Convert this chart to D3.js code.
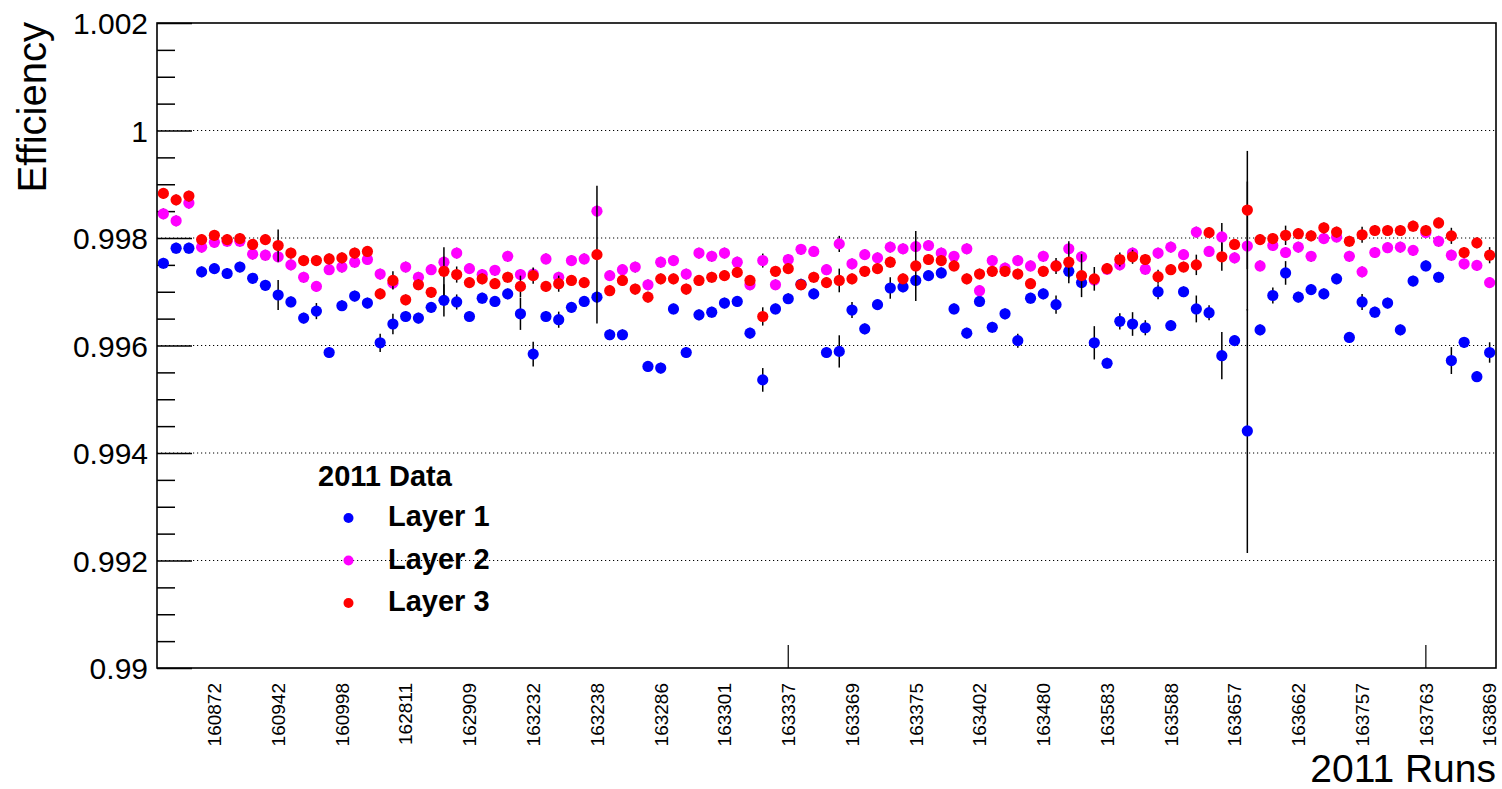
<!DOCTYPE html>
<html>
<head>
<meta charset="utf-8">
<script src="https://cdn.jsdelivr.net/npm/d3@7"></script>
<style>
body { margin: 0; background: #fff; }
svg { display: block; font-family: "Liberation Sans", Arial, Helvetica, sans-serif; }
</style>
</head>
<body>
<svg id="chart" width="1502" height="789"></svg>
<script>
// one entry per run bin (105 bins)
let n_bins = 105

let layer1_eff = [
  0.99753, 0.99781, 0.99781, 0.99737, 0.99743, 0.99734, 0.99746, 0.99725, 0.99712, 0.99694,
  0.99681, 0.99651, 0.99664, 0.99587, 0.99674, 0.99692, 0.99679, 0.99605, 0.99640, 0.99654,
  0.99651, 0.99671, 0.99684, 0.99681, 0.99654, 0.99688, 0.99682, 0.99696, 0.99659, 0.99584,
  0.99654, 0.99648, 0.99671, 0.99682, 0.99690, 0.99620, 0.99620, null, 0.99561, 0.99558,
  0.99668, 0.99587, 0.99657, 0.99662, 0.99679, 0.99682, 0.99623, 0.99536, 0.99668, 0.99687,
  0.99714, 0.99696, 0.99587, 0.99589, 0.99666, 0.99631, 0.99676, 0.99707, 0.99709, 0.99721,
  0.99730, 0.99735, 0.99668, 0.99623, 0.99682, 0.99634, 0.99659, 0.99609, 0.99688, 0.99696,
  0.99676, 0.99738, 0.99717, 0.99605, 0.99567, 0.99645, 0.99640, 0.99633, 0.99700, 0.99637,
  0.99700, 0.99668, 0.99661, 0.99581, 0.99609, 0.99441, 0.99629, 0.99693, 0.99735, 0.99690,
  0.99704, 0.99696, 0.99724, 0.99615, 0.99681, 0.99662, 0.99679, 0.99629, 0.99720, 0.99748,
  0.99727, 0.99572, 0.99606, 0.99542, 0.99587
]

let layer2_eff = [
  0.99845, 0.99832, 0.99865, 0.99783, 0.99792, 0.99794, 0.99794, 0.99770, 0.99768, 0.99765,
  0.99750, 0.99727, 0.99710, 0.99741, 0.99746, 0.99755, 0.99760, 0.99733, 0.99716, 0.99746,
  0.99727, 0.99741, 0.99755, 0.99772, 0.99743, 0.99732, 0.99740, 0.99766, 0.99732, 0.99733,
  0.99761, 0.99727, 0.99758, 0.99761, 0.99850, 0.99730, 0.99741, 0.99746, 0.99713, 0.99755,
  0.99758, 0.99733, 0.99772, 0.99766, 0.99772, 0.99755, 0.99713, 0.99758, 0.99713, 0.99760,
  0.99779, 0.99775, 0.99741, 0.99789, 0.99752, 0.99769, 0.99763, 0.99783, 0.99780, 0.99784,
  0.99786, 0.99772, 0.99766, 0.99780, 0.99702, 0.99758, 0.99744, 0.99758, 0.99748, 0.99766,
  0.99748, 0.99780, 0.99765, 0.99722, 0.99742, 0.99750, 0.99772, 0.99742, 0.99772, 0.99783,
  0.99769, 0.99811, 0.99775, 0.99802, 0.99763, 0.99785, 0.99748, 0.99786, 0.99773, 0.99783,
  0.99766, 0.99799, 0.99802, 0.99766, 0.99737, 0.99773, 0.99782, 0.99783, 0.99777, 0.99810,
  0.99794, 0.99768, 0.99752, 0.99749, 0.99717
]

let layer3_eff = [
  0.99883, 0.99871, 0.99878, 0.99797, 0.99805, 0.99797, 0.99799, 0.99788, 0.99797, 0.99786,
  0.99772, 0.99758, 0.99758, 0.99761, 0.99763, 0.99772, 0.99775, 0.99696, 0.99721, 0.99685,
  0.99713, 0.99699, 0.99738, 0.99732, 0.99717, 0.99724, 0.99715, 0.99727, 0.99710, 0.99730,
  0.99710, 0.99715, 0.99721, 0.99717, 0.99769, 0.99702, 0.99721, 0.99705, 0.99690, 0.99724,
  0.99724, 0.99705, 0.99721, 0.99727, 0.99730, 0.99736, 0.99721, 0.99654, 0.99738, 0.99743,
  0.99713, 0.99727, 0.99717, 0.99721, 0.99724, 0.99738, 0.99743, 0.99755, 0.99724, 0.99748,
  0.99760, 0.99758, 0.99748, 0.99724, 0.99733, 0.99738, 0.99738, 0.99733, 0.99715, 0.99738,
  0.99748, 0.99755, 0.99730, 0.99724, 0.99743, 0.99760, 0.99765, 0.99760, 0.99728, 0.99741,
  0.99746, 0.99750, 0.99810, 0.99765, 0.99788, 0.99852, 0.99797, 0.99799, 0.99805, 0.99808,
  0.99804, 0.99819, 0.99811, 0.99794, 0.99806, 0.99814, 0.99814, 0.99814, 0.99822, 0.99814,
  0.99828, 0.99804, 0.99773, 0.99791, 0.99768
]

// errors in units of 1e-4
let err_unit = 1e-4

let layer1_err = [
  1, 1, 1, 1, 1, 1, 1, 1, 1, 2.8,
  1, 1, 1.5, 1, 1, 1, 1, 1.7, 1.9, 1,
  1, 1, 3, 1.4, 1, 1, 1, 1, 3, 2.3,
  1, 1.5, 1, 1, 1, 1, 1, 1, 1, 1,
  1, 1, 1, 1, 1, 1, 1, 2.2, 1, 1,
  1, 1, 1, 3, 1.5, 1, 1, 2, 1, 1,
  1, 1, 1, 1, 1, 1, 1, 1.3, 1, 1,
  1.7, 1.3, 1, 3.1, 1, 1.5, 2.2, 1.4, 1.4, 1,
  1, 2.5, 1.4, 4.4, 1, 22.7, 1, 1.5, 2.2, 1,
  1, 1, 1, 1, 1.5, 1, 1, 1, 1, 1,
  1, 2.5, 1, 1, 1.9
]

let layer2_err = [
  1, 1, 1, 1, 1, 1, 1, 1, 1, 1,
  1, 1, 1, 1, 1, 1, 1, 1, 1, 1,
  1, 1, 1, 1, 1, 1, 1, 1, 1, 1,
  1, 1, 1, 1, 1, 1, 1, 1, 1, 1,
  1, 1, 1, 1, 1, 1, 1, 1.3, 1, 1,
  1, 1, 1, 1.5, 1, 1, 1, 1, 1, 1,
  1, 1, 1, 1, 1, 1, 1, 1, 1, 1,
  1, 1, 1, 1, 1, 1, 1, 1, 1, 1,
  1, 1, 1, 2.6, 1, 12, 1, 1, 1, 1,
  1, 1, 1, 1, 1, 1, 1, 1, 1, 1,
  1, 1, 1, 1, 1
]

let layer3_err = [
  1, 1, 1, 1, 1, 1, 1, 1, 1, 3,
  1, 1, 1, 1, 1, 1, 1, 1, 1.7, 1,
  1, 1, 4.5, 1.5, 1, 1, 1, 1, 2, 1.5,
  1, 1.5, 1, 1, 12.8, 1, 1, 1, 1, 1,
  1, 1, 1, 1, 1, 1, 1, 1.7, 1, 1,
  1, 1, 1, 2.2, 1, 1, 1, 1, 1, 6.5,
  1, 1, 1, 1, 1, 1, 1, 1, 1, 1,
  1.5, 3.9, 4, 2.2, 1, 1.3, 1.3, 1, 1.3, 1,
  1, 1.9, 1, 2.6, 1, 11, 1, 1, 1.8, 1,
  1, 1, 1, 1, 1.5, 1, 1, 1, 1, 1,
  1, 1.5, 1, 1, 1.5
]

let run_labels = ["160872", "160942", "160998", "162811", "162909", "163232", "163238",
  "163286", "163301", "163337", "163369", "163375", "163402", "163480", "163583",
  "163588", "163657", "163662", "163757", "163763", "163869"]
let label_bins = [4, 9, 14, 19, 24, 29, 34, 39, 44, 49, 54, 59, 64, 69, 74, 79, 84, 89, 94, 99, 104]
let x_tick_bins = [49, 99]

let y_major = [0.99, 0.992, 0.994, 0.996, 0.998, 1, 1.002]
let y_grid = [0.992, 0.994, 0.996, 0.998, 1]
let y_minor = [0.9905, 0.991, 0.9915, 0.9925, 0.993, 0.9935, 0.9945, 0.995, 0.9955,
  0.9965, 0.997, 0.9975, 0.9985, 0.999, 0.9995, 1.0005, 1.001, 1.0015]

let layer_names = ["Layer 1", "Layer 2", "Layer 3"]
let layer_colors = ["#0000ff", "#ff00ff", "#ff0000"]
let layers = [
  {name: layer_names[0], eff: layer1_eff, err: layer1_err, color: layer_colors[0]},
  {name: layer_names[1], eff: layer2_eff, err: layer2_err, color: layer_colors[1]},
  {name: layer_names[2], eff: layer3_eff, err: layer3_err, color: layer_colors[2]},
]

let margin = {top: 23, right: 6, bottom: 121, left: 157}
let width = 1502 - margin.left - margin.right
let height = 789 - margin.top - margin.bottom

let svg = d3.select("#chart")
let g = svg.append("g")
  .attr("transform", "translate(" + margin.left + "," + margin.top + ")")

let x = d3.scaleLinear().domain([0, n_bins]).range([0, width])
let y = d3.scaleLinear().domain([0.99, 1.002]).range([height, 0])

// dotted grid
g.append("g")
  .selectAll("line")
  .data(y_grid)
  .enter()
  .append("line")
    .attr("x1", 0)
    .attr("x2", width)
    .attr("y1", d => y(d))
    .attr("y2", d => y(d))
    .attr("stroke", "#000")
    .attr("stroke-width", 1)
    .attr("stroke-dasharray", "1.2,2.8")

// y axis: ticks point into the frame
let y_axis = g.append("g")
  .call(d3.axisLeft(y).tickValues(y_major).tickSize(-35).tickSizeOuter(0).tickPadding(9)
    .tickFormat(d => d3.format("")(+d.toFixed(3))))
y_axis.select(".domain").remove()
y_axis.selectAll("line").attr("stroke-width", 1.5)
y_axis.selectAll("text")
  .attr("font-size", 30)
  .attr("fill", "#000")
  .attr("dy", "0.36em")

let y_minor_axis = g.append("g")
  .call(d3.axisLeft(y).tickValues(y_minor).tickSize(-18).tickSizeOuter(0).tickFormat(""))
y_minor_axis.select(".domain").remove()
y_minor_axis.selectAll("line").attr("stroke-width", 1.5)

// x axis ticks and run labels
g.append("g")
  .selectAll("line")
  .data(x_tick_bins)
  .enter()
  .append("line")
    .attr("x1", d => x(d + 0.5))
    .attr("x2", d => x(d + 0.5))
    .attr("y1", height)
    .attr("y2", height - 23)
    .attr("stroke", "#000")
    .attr("stroke-width", 1.2)

g.append("g")
  .selectAll("text")
  .data(run_labels)
  .enter()
  .append("text")
    .attr("transform", (d, i) => "translate(" + (x(label_bins[i] + 0.5) + 6.8) + "," + (height + 15) + ") rotate(-90)")
    .attr("text-anchor", "end")
    .attr("font-size", 19)
    .attr("fill", "#000")
    .text(d => d)

// error bars then markers, one layer after the other
for(let layer of layers){
  let pts = layer.eff
    .map((v, i) => ({bin: i, v: v, e: layer.err[i] * err_unit}))
    .filter(p => p.v !== null)

  let lg = g.append("g")
  lg.selectAll("line")
    .data(pts)
    .enter()
    .append("line")
      .attr("x1", d => x(d.bin + 0.5))
      .attr("x2", d => x(d.bin + 0.5))
      .attr("y1", d => y(d.v - d.e))
      .attr("y2", d => y(d.v + d.e))
      .attr("stroke", "#000")
      .attr("stroke-width", 1.5)

  lg.selectAll("circle")
    .data(pts)
    .enter()
    .append("circle")
      .attr("cx", d => x(d.bin + 0.5))
      .attr("cy", d => y(d.v))
      .attr("r", 5.6)
      .attr("fill", layer.color)
}

// frame
g.append("rect")
  .attr("width", width)
  .attr("height", height)
  .attr("fill", "none")
  .attr("stroke", "#000")
  .attr("stroke-width", 1.6)

// axis titles
svg.append("text")
  .attr("transform", "translate(46,22) rotate(-90)")
  .attr("text-anchor", "end")
  .attr("font-size", 40)
  .attr("fill", "#000")
  .text("Efficiency")

svg.append("text")
  .attr("x", 1496)
  .attr("y", 782)
  .attr("text-anchor", "end")
  .attr("font-size", 39)
  .attr("fill", "#000")
  .text("2011 Runs")

// legend
let legend = svg.append("g")
legend.append("text")
  .attr("x", 318)
  .attr("y", 486)
  .attr("font-size", 29)
  .attr("font-weight", "bold")
  .attr("fill", "#000")
  .text("2011 Data")

let rows = legend.selectAll(".row")
  .data(layers)
  .enter()
  .append("g")
    .attr("class", "row")
    .attr("transform", (d, i) => "translate(0," + (518 + i * 42.5) + ")")

rows.append("circle")
  .attr("cx", 348.5)
  .attr("cy", 0)
  .attr("r", 5)
  .attr("fill", d => d.color)

rows.append("text")
  .attr("x", 388)
  .attr("y", 8)
  .attr("font-size", 29)
  .attr("font-weight", "bold")
  .attr("fill", "#000")
  .text(d => d.name)
</script>
</body>
</html>
